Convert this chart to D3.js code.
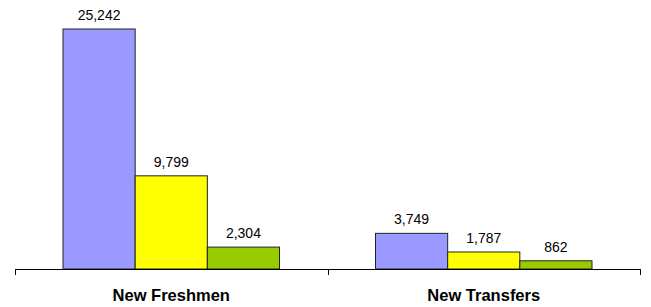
<!DOCTYPE html>
<html>
<head>
<meta charset="utf-8">
<script src="https://cdn.jsdelivr.net/npm/d3@7"></script>
<style>
  body { margin: 0; background: #fff; }
  text { font-family: "Liberation Sans", Arial, sans-serif; }
</style>
</head>
<body>
<script>
"use strict";

var categories = ["New Freshmen", "New Transfers"];
var seriesNames = ["s1", "s2", "s3"];
var seriesColors = ["#9999FF", "#FFFF00", "#99CC00"];
var valuesS1 = [25242, 3749];
var valuesS2 = [9799, 1787];
var valuesS3 = [2304, 862];

var width = 651, height = 307;
var margin = {top: 0, right: 11, bottom: 38, left: 15};
var plotW = width - margin.left - margin.right;
var plotH = 269 - margin.top;

var svg = d3.select("body").append("svg")
  .attr("width", width)
  .attr("height", height);

var chart = svg.append("g")
  .attr("transform", "translate(" + margin.left + "," + margin.top + ")");

var x0 = d3.scaleBand()
  .domain(categories)
  .range([0, plotW])
  .paddingInner(0)
  .paddingOuter(0);

var x1 = d3.scaleBand()
  .domain(seriesNames)
  .range([48, x0.bandwidth() - 48]);

var y = d3.scaleLinear()
  .domain([0, 25242 * plotH / 240])
  .range([plotH, 0]);

var allValues = [valuesS1, valuesS2, valuesS3];
var rows = [];
categories.forEach(function(c, i) {
  seriesNames.forEach(function(s, j) {
    rows.push({cat: c, series: s, idx: j, value: allValues[j][i]});
  });
});

chart.selectAll("rect.bar")
  .data(rows)
  .enter().append("rect")
  .attr("class", "bar")
  .attr("x", function(d) { return x0(d.cat) + x1(d.series); })
  .attr("y", function(d) { return y(d.value); })
  .attr("width", x1.bandwidth())
  .attr("height", function(d) { return plotH - y(d.value); })
  .attr("fill", function(d) { return seriesColors[d.idx]; })
  .attr("stroke", "#222")
  .attr("stroke-width", 1);

chart.selectAll("text.val")
  .data(rows)
  .enter().append("text")
  .attr("class", "val")
  .attr("x", function(d) { return x0(d.cat) + x1(d.series) + x1.bandwidth() / 2; })
  .attr("y", function(d) { return y(d.value) - 9; })
  .attr("text-anchor", "middle")
  .attr("font-size", "14px")
  .attr("fill", "#000")
  .text(function(d) { return d3.format(",")(d.value); });

// x axis with ticks at category boundaries
var xAxis = chart.append("g")
  .attr("transform", "translate(0," + plotH + ")");

xAxis.append("line")
  .attr("x1", 0).attr("x2", plotW)
  .attr("y1", 0.5).attr("y2", 0.5)
  .attr("stroke", "#000");

var bounds = categories.map(function(c) { return x0(c); }).concat([plotW]);
xAxis.selectAll("line.tick")
  .data(bounds)
  .enter().append("line")
  .attr("class", "tick")
  .attr("x1", function(d) { return Math.round(d) + 0.5; })
  .attr("x2", function(d) { return Math.round(d) + 0.5; })
  .attr("y1", 0).attr("y2", 6)
  .attr("stroke", "#000");

xAxis.selectAll("text.cat")
  .data(categories)
  .enter().append("text")
  .attr("class", "cat")
  .attr("x", function(d) { return x0(d) + x0.bandwidth() / 2; })
  .attr("y", 32)
  .attr("text-anchor", "middle")
  .attr("font-size", "16.5px")
  .attr("font-weight", "bold")
  .text(function(d) { return d; });
</script>
</body>
</html>
